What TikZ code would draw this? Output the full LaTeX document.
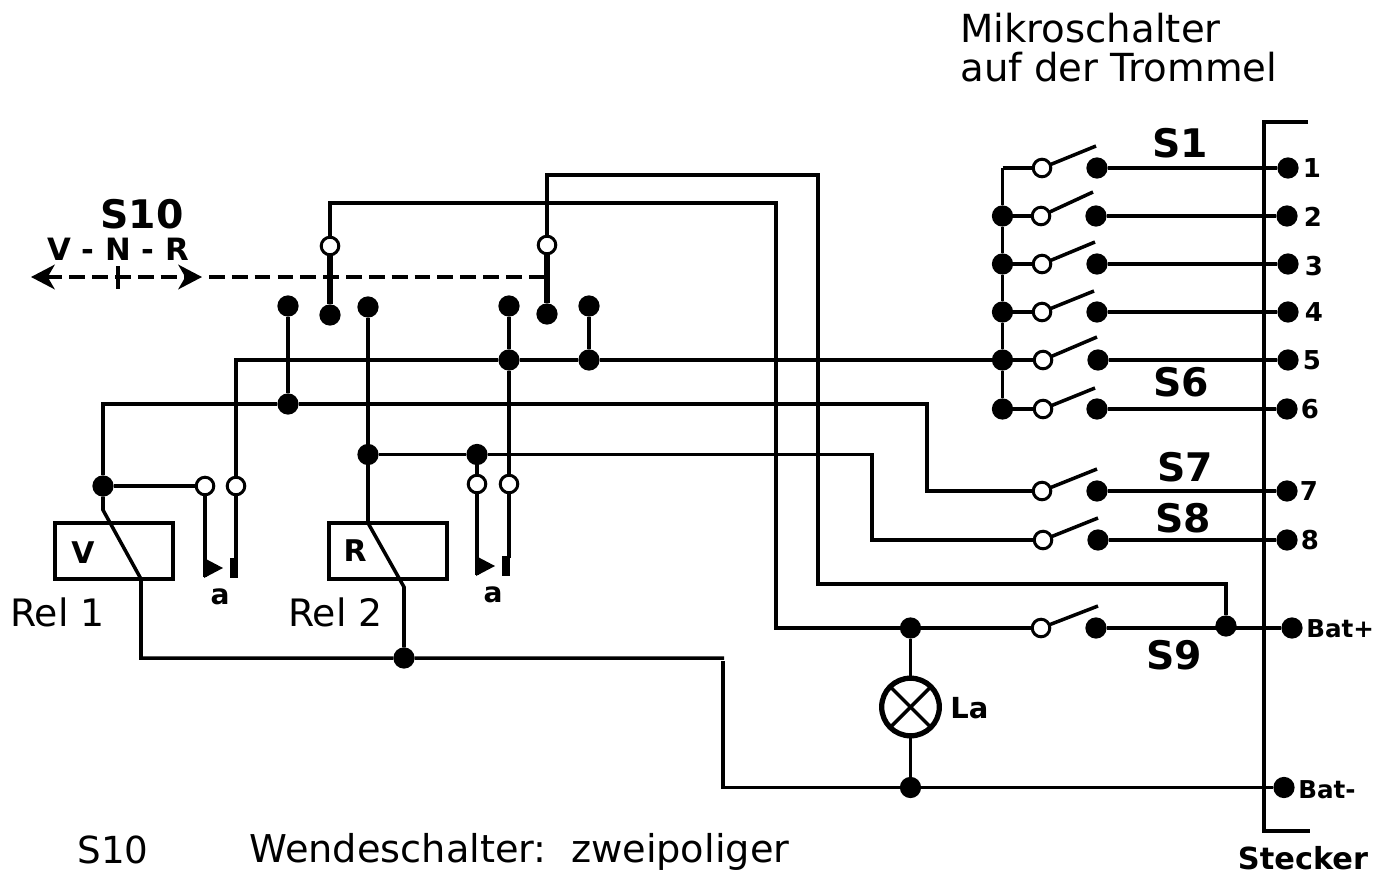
\documentclass[tikz,border=0pt]{standalone}
\usepackage{fontspec}
\setmainfont{DejaVu Sans}
\usetikzlibrary{arrows.meta}
\tikzset{
	wire/.style={line width=2pt},
	dot/.style={circle,fill=black,draw=none,inner sep=0pt,outer sep=0pt,minimum size=12.1pt},
	opendot/.style={circle,fill=white,draw=black,line width=1.7pt,inner sep=0pt,outer sep=0pt,minimum size=10pt},
	relbox/.style={draw,line width=2pt,rectangle,inner sep=0pt},
	lab/.style={inner sep=0pt,font=\fontsize{#1}{#1}\selectfont},
	blab/.style={inner sep=0pt,font=\fontsize{#1}{#1}\selectfont\bfseries},
	lamp/.style={circle,draw,fill=white,line width=3pt,inner sep=0pt,outer sep=0pt,minimum size=32.8pt}
}
\begin{document}
\begin{tikzpicture}[x=0.02cm,y=-0.02cm]
	\useasboundingbox (0,0) rectangle (1389,872);

	% umschalter
	\node[opendot] (sa) at (330,246) {};
	\node[dot] (sap) at (330,315) {};
	\node[opendot] (sb) at (547,245) {};
	\node[dot] (sbp) at (547,314) {};
	\node[dot] (va) at (288,306) {};
	\node[dot] (ra) at (368,307) {};
	\node[dot] (vb) at (509,306) {};
	\node[dot] (rb) at (589,306) {};
	\draw[line width=3.2pt] (sa) -- (sap);
	\draw[line width=3.2pt] (sb) -- (sbp);

	% stellhebel
	\coordinate (hl) at (31,277);
	\coordinate (hr) at (202,277);
	\coordinate (hs) at (209,277);
	\coordinate (he) at (547,277);
	\coordinate (ht) at (118,266);
	\coordinate (hu) at (118,289);
	\draw[wire,dash pattern=on 9pt off 4pt,{Stealth[length=13.5pt,width=14pt,inset=4pt]}-{Stealth[length=13.5pt,width=14pt,inset=4pt]}] (hl) -- (hr);
	\draw[wire,dash pattern=on 9pt off 4pt] (hs) -- (he);
	\draw[wire] (ht) -- (hu);
	\node[blab=22.4] (ts) at (142,214) {S10};
	\node[blab=17.5] (tp) at (118,249) {V - N - R};

	% knoten
	\node[dot] (na) at (288,404) {};
	\node[dot] (nb) at (368,454.5) {};
	\node[dot] (nc) at (477,454.5) {};
	\node[dot] (nd) at (509,360) {};
	\node[dot] (ne) at (589,360) {};
	\node[dot] (nf) at (103,486) {};
	\node[dot] (ng) at (404,658) {};

	% relais
	\node[relbox,minimum width=67pt,minimum height=32pt] (rela) at (114,551) {};
	\node[relbox,minimum width=67pt,minimum height=32pt] (relb) at (388,551) {};
	\node[blab=17] (tv) at (83,553) {V};
	\node[blab=17] (tr) at (355,551) {R};
	\node[lab=21.5] (tra) at (57.5,612) {Rel 1};
	\node[lab=21.5] (trb) at (335.5,612) {Rel 2};

	% kontakte a
	\node[opendot] (aa) at (205,486) {};
	\node[opendot] (ab) at (236,486) {};
	\node[opendot] (ac) at (477,484) {};
	\node[opendot] (ad) at (509,484) {};
	\coordinate (ae) at (205,577);
	\coordinate (af) at (236,560);
	\coordinate (ag) at (477,575);
	\coordinate (ah) at (509,558);
	\draw[wire] (aa) -- (ae);
	\draw[wire] (ab) -- (af);
	\draw[wire] (ac) -- (ag);
	\draw[wire] (ad) -- (ah);
	\draw[fill=black,draw=none] (204,558) -- (223,568) -- (204,578) -- cycle;
	\draw[fill=black,draw=none] (230,558) rectangle (238,578);
	\draw[fill=black,draw=none] (476,556) -- (495,566) -- (476,576) -- cycle;
	\draw[fill=black,draw=none] (502,556) rectangle (510,576);
	\node[blab=16] (tka) at (220,597) {a};
	\node[blab=16] (tkb) at (493,594.5) {a};

	% mikroschalter
	\node[dot] (l2) at (1002.5,216) {};
	\node[dot] (l3) at (1002.5,264) {};
	\node[dot] (l4) at (1002.5,312) {};
	\node[dot] (l5) at (1002.5,360) {};
	\node[dot] (l6) at (1002.5,409) {};
	\coordinate (l1) at (1002.5,168);
	\node[opendot] (o1) at (1042,168) {};
	\node[opendot] (o2) at (1041,216) {};
	\node[opendot] (o3) at (1042,264) {};
	\node[opendot] (o4) at (1042,312) {};
	\node[opendot] (o5) at (1043,360) {};
	\node[opendot] (o6) at (1043,409) {};
	\node[opendot] (o7) at (1042,491) {};
	\node[opendot] (o8) at (1043,540) {};
	\node[opendot] (o9) at (1041,628) {};
	\node[dot] (k1) at (1097,168) {};
	\node[dot] (k2) at (1096,216) {};
	\node[dot] (k3) at (1097,264) {};
	\node[dot] (k4) at (1097,312) {};
	\node[dot] (k5) at (1098,360) {};
	\node[dot] (k6) at (1097,409) {};
	\node[dot] (k7) at (1097,491) {};
	\node[dot] (k8) at (1098,540) {};
	\node[dot] (k9) at (1096,628) {};
	\coordinate (b1) at (1096,146);
	\coordinate (b2) at (1093,192);
	\coordinate (b3) at (1095,242);
	\coordinate (b4) at (1094,291);
	\coordinate (b5) at (1097,337);
	\coordinate (b6) at (1095,388);
	\coordinate (b7) at (1097,469);
	\coordinate (b8) at (1098,518);
	\coordinate (b9) at (1098,606);
	\draw[wire] (o1) -- (b1);
	\draw[wire] (o2) -- (b2);
	\draw[wire] (o3) -- (b3);
	\draw[wire] (o4) -- (b4);
	\draw[wire] (o5) -- (b5);
	\draw[wire] (o6) -- (b6);
	\draw[wire] (o7) -- (b7);
	\draw[wire] (o8) -- (b8);
	\draw[wire] (o9) -- (b9);

	% stecker
	\coordinate (pa) at (1308,122);
	\coordinate (pb) at (1264,122);
	\coordinate (pc) at (1264,831);
	\coordinate (pd) at (1310,831);
	\draw[wire] (pa) -- (pb) -- (pc) -- (pd);
	\node[dot] (p1) at (1288,168) {};
	\node[dot] (p2) at (1287,216) {};
	\node[dot] (p3) at (1288,264) {};
	\node[dot] (p4) at (1288,312) {};
	\node[dot] (p5) at (1288,360) {};
	\node[dot] (p6) at (1287,409) {};
	\node[dot] (p7) at (1287,491) {};
	\node[dot] (p8) at (1287,540) {};
	\node[dot] (pp) at (1292,628) {};
	\node[dot] (pm) at (1284,787.5) {};
	\node[blab=14.8] (t1) at (1312,168) {1};
	\node[blab=14.8] (t2) at (1313,217) {2};
	\node[blab=14.8] (t3) at (1314,266) {3};
	\node[blab=14.8] (t4) at (1314,312) {4};
	\node[blab=14.8] (t5) at (1312,360) {5};
	\node[blab=14.8] (t6) at (1310,409) {6};
	\node[blab=14.8] (t7) at (1309,491) {7};
	\node[blab=14.8] (t8) at (1310,540) {8};
	\node[blab=14,anchor=west] (tbp) at (1306,629) {Bat+};
	\node[blab=14,anchor=west] (tbm) at (1298,790) {Bat-};
	\node[blab=17.3,anchor=base] (tst) at (1303,869) {Stecker};
	\node[blab=22.4] (ts1) at (1180,143) {S1};
	\node[blab=22.4] (ts6) at (1181,382) {S6};
	\node[blab=22.4] (ts7) at (1185,467) {S7};
	\node[blab=22.4] (ts8) at (1183,518) {S8};
	\node[blab=22.4] (ts9) at (1174,655) {S9};

	% lampe
	\node[dot] (la) at (910.5,628) {};
	\node[dot] (lb) at (910.5,787.5) {};
	\node[dot] (lc) at (1226,626) {};
	\node[lamp] (lp) at (910.5,707) {};
	\draw[wire] (lp.north west) -- (lp.south east);
	\draw[wire] (lp.north east) -- (lp.south west);
	\node[blab=16.5,anchor=west] (tla) at (950,708) {La};

	% leitungen
	\draw[wire] (l1) -- (l2) -- (l3) -- (l4) -- (l5) -- (l6);
	\draw[wire] (l1) -- (o1);
	\draw[wire] (l2) -- (o2);
	\draw[wire] (l3) -- (o3);
	\draw[wire] (l4) -- (o4);
	\draw[wire] (l5) -- (o5);
	\draw[wire] (l6) -- (o6);
	\draw[wire] (k1) -- (p1);
	\draw[wire] (k2) -- (p2);
	\draw[wire] (k3) -- (p3);
	\draw[wire] (k4) -- (p4);
	\draw[wire] (k5) -- (p5);
	\draw[wire] (k6) -- (p6);
	\draw[wire] (k7) -- (p7);
	\draw[wire] (k8) -- (p8);
	\draw[wire] (k9) -- (pp);
	\draw[wire] (lb) -- (pm);
	\draw[wire] (la) -- (lp);
	\draw[wire] (lp) -- (lb);
	\draw[wire] (la) -- (o9);
	\coordinate (c1) at (330,203);
	\coordinate (c2) at (776,203);
	\coordinate (c3) at (776,628);
	\draw[wire] (sa) -- (c1) -- (c2) -- (c3) -- (la);
	\coordinate (d1) at (547,175);
	\coordinate (d2) at (818,175);
	\coordinate (d3) at (818,584);
	\coordinate (d4) at (1226,584);
	\draw[wire] (sb) -- (d1) -- (d2) -- (d3) -- (d4) -- (lc);
	\draw[wire] (va) -- (na);
	\draw[wire] (ra) -- (nb);
	\coordinate (e1) at (368,523);
	\coordinate (e2) at (404,587);
	\draw[wire] (nb) -- (e1) -- (e2) -- (ng);
	\draw[wire] (vb) -- (nd);
	\draw[wire] (nd) -- (ad);
	\draw[wire] (rb) -- (ne);
	\coordinate (f1) at (236,360);
	\draw[wire] (ab) -- (f1) -- (nd) -- (ne) -- (l5);
	\coordinate (g1) at (103,404);
	\coordinate (g2) at (927,404);
	\coordinate (g3) at (927,491);
	\draw[wire] (nf) -- (g1) -- (na) -- (g2) -- (g3) -- (o7);
	\draw[wire] (nf) -- (aa);
	\coordinate (h1) at (872,454.5);
	\coordinate (h2) at (872,540);
	\draw[wire] (nb) -- (nc);
	\draw[wire] (nc) -- (h1) -- (h2) -- (o8);
	\draw[wire] (nc) -- (ac);
	\coordinate (m1) at (103,510);
	\coordinate (m2) at (141,579);
	\coordinate (m3) at (141,658);
	\coordinate (m4) at (724,658);
	\coordinate (m5) at (723,661);
	\coordinate (m6) at (723,787.5);
	\draw[wire] (nf) -- (m1) -- (m2) -- (m3) -- (ng) -- (m4);
	\draw[wire] (m5) -- (m6) -- (lb);

	% text
	\node[lab=22,anchor=base west] (tm1) at (960,42) {Mikroschalter};
	\node[lab=22,anchor=base west] (tm2) at (960,81) {auf der Trommel};
	\node[lab=21.2] (tsz) at (113,850) {S10};
	\node[lab=21.8,anchor=base west] (tw1) at (249,862) {Wendeschalter:\ \ zweipoliger};
\end{tikzpicture}
\end{document}
